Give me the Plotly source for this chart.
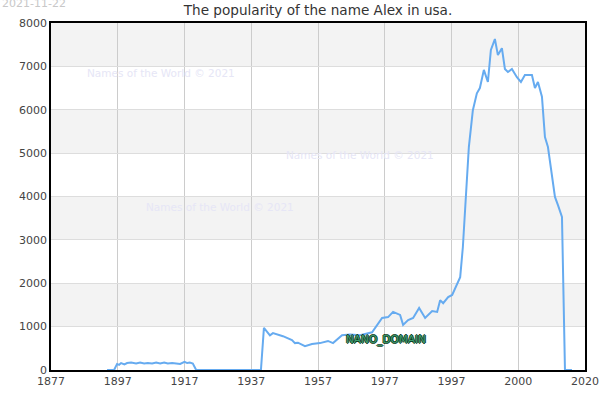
import plotly.graph_objects as go

# x positions on the chart's own axis scale (tick every 20 units, labelled below)
years = [1893.8, 1895.9, 1896.8, 1897.4, 1898.0, 1899.0, 1899.8, 1901.0, 1902.5, 1903.7,
         1904.9, 1906.0, 1907.3, 1908.5, 1909.7, 1910.9, 1912.0, 1913.3, 1914.5, 1915.7,
         1917.0, 1917.8, 1918.6, 1919.5, 1920.5, 1939.9, 1940.8, 1942.6, 1943.5, 1946.5,
         1949.2, 1950.1, 1951.0, 1953.1, 1955.2, 1957.6, 1960.0, 1961.5, 1964.2, 1966.6,
         1969.6, 1971.1, 1973.2, 1976.2, 1978.0, 1979.5, 1981.6, 1982.5, 1984.0, 1985.5,
         1987.3, 1989.1, 1991.2, 1992.7, 1993.6, 1994.5, 1996.0, 1997.2, 1998.1, 1999.6,
         2000.4, 2001.3, 2002.2, 2003.4, 2004.6, 2005.5, 2006.7, 2007.9, 2008.8, 2010.0,
         2010.9, 2012.1, 2013.0, 2013.9, 2015.1, 2016.6, 2017.8, 2019.0, 2021.1, 2022.0,
         2022.9, 2024.1, 2025.0, 2025.9, 2027.1, 2028.0, 2028.9, 2030.1, 2031.0, 2033.1]
counts = [0, 0, 140, 120, 160, 130, 160, 170, 150, 170,
          150, 160, 150, 170, 150, 170, 150, 160, 150, 140,
          190, 160, 170, 150, 0, 0, 970, 800, 850, 780,
          690, 620, 630, 550, 600, 620, 670, 620, 800, 820,
          800, 830, 870, 1200, 1220, 1340, 1270, 1040, 1150, 1200,
          1430, 1200, 1360, 1340, 1610, 1540, 1680, 1730, 1890, 2140,
          2830, 3990, 5140, 5990, 6380, 6500, 6920, 6640, 7380, 7630,
          7260, 7420, 6940, 6870, 6940, 6750, 6640, 6800, 6800, 6500,
          6640, 6300, 5370, 5140, 4450, 3990, 3800, 3530, 0, 0]

tick_vals = [1877, 1897, 1917, 1937, 1957, 1977, 1997, 2017, 2037]
tick_text = ["1877", "1897", "1917", "1937", "1957", "1977", "1997", "2000", "2020"]
y_ticks = [0, 1000, 2000, 3000, 4000, 5000, 6000, 7000, 8000]
bands = [(1000, 2000), (3000, 4000), (5000, 6000), (7000, 8000)]

title = "The popularity of the name Alex in usa."
date_label = "2021-11-22"
watermark = "Names of the World © 2021"

fig = go.Figure()
fig.add_trace(go.Scatter(x=years, y=counts, mode="lines",
                         line=dict(color="#66abf0", width=2), hoverinfo="skip"))

for y0, y1 in bands:
    fig.add_shape(type="rect", xref="paper", yref="y", x0=0, x1=1, y0=y0, y1=y1,
                  fillcolor="#f3f3f3", line_width=0, layer="below")

font = "DejaVu Sans, sans-serif"
fig.update_layout(
    width=600, height=400,
    margin=dict(l=51, r=15, t=23, b=30, autoexpand=False),
    paper_bgcolor="white", plot_bgcolor="white",
    showlegend=False,
    font=dict(family=font, size=11, color="#444"),
    title=dict(text=title, x=0.5, xanchor="center", xref="paper",
               y=1 - 10/400, yanchor="middle", yref="container", automargin=False,
               font=dict(family=font, size=13.6, color="#333")),
    xaxis=dict(range=[1877, 2037], tickvals=tick_vals, ticktext=tick_text,
               showgrid=True, gridcolor="#cccccc", gridwidth=1, automargin=False,
               showline=True, linecolor="black", linewidth=1.5, mirror=True,
               ticks="", zeroline=False, tickfont=dict(size=11, color="#444")),
    yaxis=dict(range=[0, 8000], tickvals=y_ticks, automargin=False,
               showgrid=True, gridcolor="#dddddd", gridwidth=1,
               showline=True, linecolor="black", linewidth=1.5, mirror=True,
               ticks="", zeroline=False, tickfont=dict(size=11, color="#444")),
)

fig.add_annotation(text=date_label, xref="paper", yref="paper", x=-51/534, y=1 + 19/347,
                   xanchor="left", yanchor="middle", showarrow=False,
                   font=dict(family=font, size=11, color="#c8c8c8"))

for wx, wy in [(0.064, 0.855), (0.436, 0.62), (0.174, 0.47)]:
    fig.add_annotation(text=watermark, xref="paper", yref="paper", x=wx, y=wy,
                       xanchor="left", yanchor="middle", showarrow=False,
                       font=dict(family=font, size=10.5, color="#e6e6f6"))

fig.add_annotation(text="NANO_DOMAIN", xref="paper", yref="paper", x=0.548, y=0.087,
                   xanchor="left", yanchor="middle", showarrow=False,
                   font=dict(family=font, size=10.5, color="#3f9f70",
                             shadow="1px 0 0 #0d3d22, -1px 0 0 #0d3d22, 0 1px 0 #0d3d22, 0 -1px 0 #0d3d22"))

fig.write_html("out.html", config={"displayModeBar": False},
               post_script="document.body.style.margin='0';")
